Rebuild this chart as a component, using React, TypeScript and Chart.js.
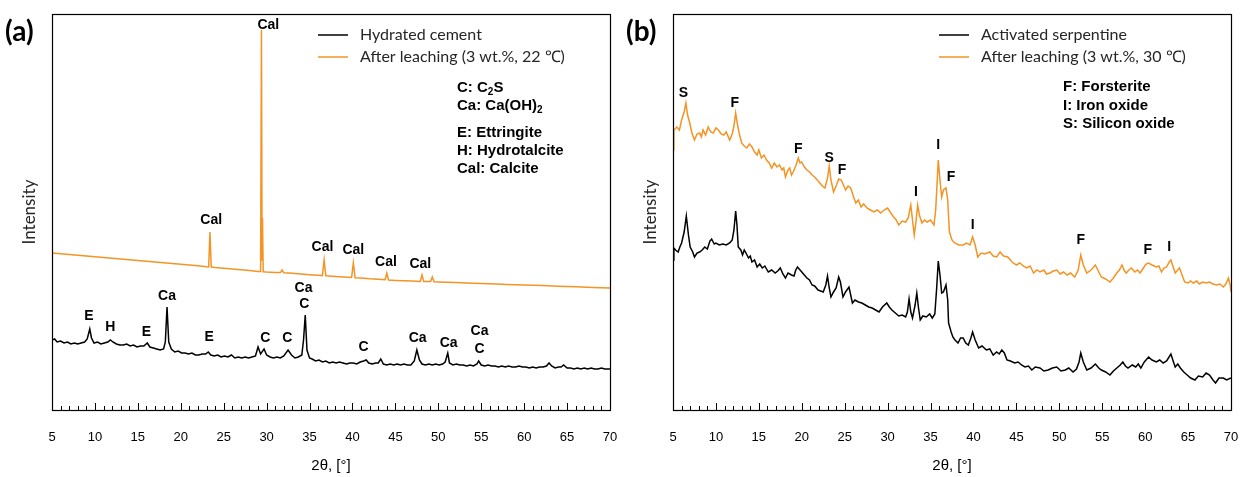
import React, { useEffect, useRef } from "react";
import { Chart, registerables } from "chart.js";
Chart.register(...registerables);

type Pt = [number, number];

const X_MIN = 5;
const X_MAX = 70;
const Y_MAX = 396;
const X_STEP = 5;

// Panel (a): hydrated cement (black)
const hydratedCement: Pt[] = [
  [5.0,70],[5.3,71],[5.6,68],[6.0,69],[6.4,67],[6.8,68],[7.2,66],[7.6,67],[8.0,66],[8.4,67],[8.8,68],[9.1,71],[9.4,81],[9.6,72],[9.9,67],
  [10.3,68],[10.7,66],[11.1,67],[11.5,68],[11.8,70],[12.1,68],[12.5,66],[12.9,65],[13.3,65],[13.7,66],[14.1,64],[14.5,65],[14.9,63],[15.3,64],
  [15.7,64],[16.1,67],[16.4,63],[16.8,62],[17.2,61],[17.6,60],[18.0,61],[18.2,68],[18.4,103],[18.6,68],[18.9,61],[19.3,58],[19.7,59],[20.1,57],
  [20.5,57],[20.9,56],[21.3,57],[21.7,55],[22.1,55],[22.5,56],[22.9,56],[23.2,58],[23.5,55],[23.9,54],[24.3,55],[24.7,53],[25.1,54],[25.5,53],
  [25.9,55],[26.3,52],[26.7,53],[27.1,52],[27.5,53],[27.9,52],[28.3,53],[28.7,54],[29.0,63],[29.3,56],[29.7,61],[30.0,55],[30.4,53],[30.8,52],
  [31.2,53],[31.6,52],[32.0,54],[32.5,60],[32.9,55],[33.3,52],[33.7,53],[34.1,55],[34.3,70],[34.5,95],[34.7,60],[35.0,52],[35.3,51],[35.7,49],
  [36.1,50],[36.5,48],[36.9,49],[37.3,47],[37.7,48],[38.1,47],[38.5,48],[38.9,47],[39.3,46],[39.7,47],[40.1,47],[40.5,46],[40.9,48],[41.3,49],
  [41.6,50],[41.9,47],[42.3,46],[42.7,47],[43.0,47],[43.3,51],[43.6,46],[44.0,45],[44.4,46],[44.8,45],[45.2,46],[45.6,45],[46.0,46],[46.4,45],
  [46.8,45],[47.2,49],[47.5,60],[47.8,50],[48.1,46],[48.5,45],[48.9,46],[49.3,45],[49.7,46],[50.1,45],[50.5,46],[50.8,48],[51.1,57],[51.3,47],
  [51.7,45],[52.1,46],[52.5,45],[52.9,45],[53.3,44],[53.7,45],[54.1,44],[54.5,46],[54.7,49],[55.0,45],[55.4,44],[55.8,45],[56.2,44],[56.6,44],
  [57.0,43],[57.4,44],[57.8,43],[58.2,44],[58.6,43],[59.0,43],[59.4,44],[59.8,43],[60.2,43],[60.6,42],[61.0,43],[61.4,42],[61.8,43],[62.2,43],
  [62.6,44],[62.9,47],[63.2,44],[63.6,42],[64.0,43],[64.3,43],[64.6,45],[65.0,42],[65.4,42],[65.8,41],[66.2,42],[66.6,41],[67.0,42],[67.4,41],
  [67.8,42],[68.2,41],[68.6,41],[69.0,42],[69.4,41],[69.8,41],[70.0,41],
];

// Panel (a): after leaching (orange)
const leachedCement: Pt[] = [
  [5,157],[6,156.3],[7,155.5],[8,154.8],[9,154],[10,153.3],[11,152.5],[12,151.8],[13,151],[14,150.3],[15,149.5],[16,148.8],[17,148],
  [18,147.3],[19,146.5],[20,145.8],[21,145],[22,144.3],[23,143.2],[23.25,143],[23.4,178],[23.55,143],[24,142.5],[25,141.8],[26,141],
  [27,140.2],[28,139.4],[29,138.6],[29.3,138.5],[29.4,380],[29.47,150],[29.52,192],[29.6,138.3],[30,138],[31,137.6],[31.6,137.4],[31.8,140],
  [32.0,137.2],[33,136.7],[34,136],[35,135.3],[36,134.7],[36.5,134.4],[36.7,150],[36.9,134.2],[38,133.5],[39,133],[39.9,132.5],[40.1,147],
  [40.3,132.3],[41,132],[42,131.3],[43,130.8],[43.8,130.3],[44.0,137],[44.2,130],[45,129.6],[46,129.2],[47,128.9],[47.9,128.6],[48.1,135],
  [48.3,128.6],[49.1,128.4],[49.3,133],[49.5,128.2],[50,128],[52,127.4],[54,126.8],[56,126.2],[58,125.6],[60,125],[62,124.4],[64,123.8],
  [66,123.2],[68,122.6],[70,122],
];

// Panel (b): activated serpentine (black)
const activatedSerpentine: Pt[] = [
  [5.0,150],[5.1,162],[5.3,160],[5.6,158],[5.8,163],[6.0,167],[6.3,178],[6.55,194],[6.8,175],[7.0,163],[7.3,158],[7.5,153],[7.8,157],[8.1,158],
  [8.4,160],[8.7,163],[9.0,161],[9.3,169],[9.5,171],[9.8,166],[10.0,167],[10.4,165],[10.8,166],[11.2,165],[11.6,167],[11.9,170],[12.1,180],
  [12.3,199],[12.45,185],[12.6,163],[12.9,160],[13.1,155],[13.3,160],[13.5,157],[13.8,152],[14.0,154],[14.2,148],[14.5,150],[14.8,143],[15.1,146],
  [15.4,142],[15.7,144],[16.1,138],[16.5,140],[16.9,137],[17.2,139],[17.5,142],[17.8,136],[18.1,132],[18.4,137],[18.8,135],[19.1,134],[19.3,140],
  [19.5,143],[19.8,140],[20.0,138],[20.3,135],[20.6,132],[20.9,130],[21.2,125],[21.5,124],[21.9,120],[22.2,119],[22.5,118],[22.8,125],[23.0,134],
  [23.2,122],[23.4,113],[23.7,118],[24.0,122],[24.3,133],[24.5,128],[24.8,113],[25.1,118],[25.5,123],[25.9,107],[26.2,110],[26.6,108],[27.0,107],
  [27.4,105],[27.8,103],[28.2,102],[28.6,100],[29.0,98],[29.4,103],[29.9,107],[30.2,103],[30.5,100],[30.9,97],[31.3,94],[31.7,95],[32.1,93],
  [32.3,98],[32.5,111],[32.7,98],[32.9,92],[33.2,105],[33.4,117],[33.6,102],[33.8,90],[34.1,94],[34.5,93],[34.9,96],[35.2,92],[35.5,96],
  [35.7,120],[35.9,149],[36.1,135],[36.3,117],[36.5,118],[36.8,125],[37.0,110],[37.1,87],[37.4,78],[37.6,73],[37.85,70],[38.2,67],[38.5,72],
  [38.8,72],[39.1,67],[39.4,65],[39.7,72],[39.9,78],[40.2,70],[40.6,62],[41.0,64],[41.5,60],[41.9,61],[42.3,55],[42.7,58],[43.0,56],[43.3,60],
  [43.6,57],[43.9,50],[44.3,49],[44.8,47],[45.2,48],[45.6,45],[46.0,43],[46.4,44],[46.8,40],[47.2,43],[47.75,42],[48.2,39],[48.7,40],[49.2,42],
  [49.7,43],[50.2,39],[50.7,40],[51.1,42],[51.6,38],[52.0,41],[52.3,48],[52.5,57],[52.8,48],[53.2,40],[53.7,42],[54.2,46],[54.6,42],[54.9,40],
  [55.4,38],[55.9,35],[56.3,39],[56.7,42],[57.1,45],[57.4,48],[57.7,44],[58.0,42],[58.5,45],[58.9,43],[59.2,46],[59.5,42],[59.9,48],[60.4,53],
  [60.8,50],[61.3,48],[61.7,50],[62.1,47],[62.5,49],[63.0,56],[63.3,48],[63.5,43],[63.8,46],[64.1,42],[64.5,38],[64.9,35],[65.3,32],[65.8,30],
  [66.2,34],[66.7,33],[67.1,37],[67.5,35],[67.9,30],[68.2,27],[68.6,32],[69.1,32],[69.5,30],[70.0,32],
];

// Panel (b): after leaching (orange)
const leachedSerpentine: Pt[] = [
  [5.0,260],[5.1,280],[5.45,283],[5.75,280],[6.0,290],[6.3,298],[6.5,307],[6.7,295],[6.95,287],[7.2,277],[7.5,270],[7.8,276],[8.1,277],[8.3,273],
  [8.5,280],[8.8,275],[9.1,283],[9.4,278],[9.7,277],[10.0,282],[10.3,280],[10.6,276],[10.9,275],[11.2,278],[11.6,270],[11.9,276],[12.1,284],
  [12.3,297],[12.5,286],[12.7,277],[13.0,267],[13.3,264],[13.6,262],[13.9,266],[14.2,263],[14.5,258],[14.8,255],[15.0,260],[15.3,252],[15.6,255],
  [15.9,250],[16.2,247],[16.5,242],[16.8,247],[17.1,243],[17.4,245],[17.7,240],[17.9,242],[18.1,233],[18.4,240],[18.6,242],[18.8,235],[19.0,238],
  [19.3,244],[19.6,252],[19.8,247],[20.0,248],[20.3,243],[20.6,240],[20.9,238],[21.2,235],[21.5,233],[21.8,230],[22.1,227],[22.4,224],[22.7,222],
  [23.0,232],[23.2,244],[23.4,230],[23.7,218],[24.0,224],[24.3,231],[24.6,230],[24.9,224],[25.1,220],[25.4,224],[25.7,222],[26.0,214],[26.3,207],
  [26.6,210],[26.9,203],[27.2,206],[27.6,202],[28.0,200],[28.4,198],[28.8,200],[29.2,197],[29.6,200],[30.0,202],[30.3,198],[30.7,193],[31.0,190],
  [31.3,185],[31.7,189],[32.1,188],[32.4,192],[32.7,205],[32.9,190],[33.1,175],[33.3,188],[33.5,205],[33.7,195],[34.0,187],[34.3,190],[34.6,188],
  [35.0,190],[35.4,185],[35.6,200],[35.9,250],[36.1,230],[36.3,213],[36.5,220],[36.8,222],[37.0,210],[37.2,178],[37.5,170],[37.8,167],[38.3,165],
  [38.8,165],[39.2,167],[39.6,165],[39.9,173],[40.2,165],[40.5,153],[40.9,157],[41.3,156],[41.9,158],[42.3,154],[42.7,153],[43.1,158],[43.5,154],
  [44.0,153],[44.5,148],[45.0,145],[45.4,147],[45.8,144],[46.2,142],[46.6,144],[47.0,137],[47.4,140],[47.75,138],[48.2,140],[48.5,136],[48.9,137],
  [49.3,139],[49.7,140],[50.1,136],[50.5,138],[50.9,135],[51.3,137],[51.8,133],[52.2,140],[52.5,155],[52.8,145],[53.2,137],[53.7,140],[54.2,145],
  [54.6,138],[54.9,133],[55.4,131],[55.9,128],[56.3,132],[56.7,137],[57.0,140],[57.3,145],[57.6,139],[57.8,137],[58.1,140],[58.4,142],[58.8,138],
  [59.1,140],[59.4,137],[59.8,142],[60.1,146],[60.4,147],[60.8,145],[61.3,143],[61.6,144],[61.9,138],[62.2,142],[62.5,143],[62.8,148],[63.0,150],
  [63.3,142],[63.5,137],[63.8,140],[64.0,142],[64.3,135],[64.6,128],[65.0,127],[65.3,129],[65.6,127],[66.0,129],[66.3,126],[66.7,128],[67.1,127],
  [67.5,128],[67.9,126],[68.3,125],[68.7,126],[69.1,123],[69.4,126],[69.7,132],[69.9,125],[70.0,118],
];

type Label = { t: string; x: number; y: number };

const cementPeakLabels: Label[] = [
  { t: "Cal", x: 30.2, y: 385 }, { t: "Cal", x: 23.55, y: 190 }, { t: "Cal", x: 36.5, y: 163 }, { t: "Cal", x: 40.1, y: 160 },
  { t: "Cal", x: 43.9, y: 148 }, { t: "Cal", x: 47.9, y: 146 }, { t: "E", x: 9.3, y: 94 }, { t: "H", x: 11.8, y: 83 },
  { t: "E", x: 16.0, y: 78 }, { t: "Ca", x: 18.4, y: 114 }, { t: "E", x: 23.3, y: 73 }, { t: "C", x: 29.85, y: 72 },
  { t: "C", x: 32.4, y: 72 }, { t: "Ca", x: 34.3, y: 122 }, { t: "C", x: 34.4, y: 106 }, { t: "C", x: 41.3, y: 63 },
  { t: "Ca", x: 47.6, y: 72 }, { t: "Ca", x: 51.2, y: 67 }, { t: "Ca", x: 54.8, y: 79 }, { t: "C", x: 54.8, y: 61 },
];

const serpPeakLabels: Label[] = [
  { t: "S", x: 6.2, y: 317 }, { t: "F", x: 12.2, y: 307 }, { t: "F", x: 19.6, y: 261 }, { t: "S", x: 23.2, y: 252 },
  { t: "F", x: 24.7, y: 240 }, { t: "I", x: 33.3, y: 218 }, { t: "I", x: 35.9, y: 265 }, { t: "F", x: 37.4, y: 233 },
  { t: "I", x: 39.9, y: 185 }, { t: "F", x: 52.5, y: 170 }, { t: "F", x: 60.3, y: 160 }, { t: "I", x: 62.8, y: 163 },
];

const cementLegend = ["Hydrated cement", "After leaching (3 wt.%, 22 \u2103)"];
const serpLegend = ["Activated serpentine", "After leaching (3 wt.%, 30 \u2103)"];
const cementPhases = ["C: C_2S", "Ca: Ca(OH)_2", "E: Ettringite", "H: Hydrotalcite", "Cal: Calcite"];
const cementPhaseRows = [74, 92, 119, 137, 155];
const serpPhases = ["F: Forsterite", "I: Iron oxide", "S: Silicon oxide"];
const serpPhaseRows = [73, 92, 110];

const BLACK = "#000000";
const ORANGE = "#F39424";

type PanelCfg = {
  tag: string;
  series: { data: Pt[]; color: string }[];
  peaks: Label[];
  legend: string[];
  phases: string[];
  phaseRows: number[];
  phaseX: number;
};

function drawSubText(ctx: CanvasRenderingContext2D, text: string, x: number, y: number, size: number) {
  const parts = text.split(/(_\d)/);
  let cx = x;
  for (const p of parts) {
    if (!p) continue;
    if (p.startsWith("_")) {
      ctx.font = `bold ${Math.round(size * 0.68)}px "Liberation Sans", Arial, sans-serif`;
      ctx.fillText(p.slice(1), cx, y + size * 0.3);
      cx += ctx.measureText(p.slice(1)).width;
    } else {
      ctx.font = `bold ${size}px "Liberation Sans", Arial, sans-serif`;
      ctx.fillText(p, cx, y);
      cx += ctx.measureText(p).width;
    }
  }
}

function makeDecor(cfg: PanelCfg) {
  return {
    id: "xrdDecor",
    afterDraw(chart: any) {
      const { ctx, chartArea: ca, scales } = chart;
      const xs = scales.x;
      const ys = scales.y;
      ctx.save();
      // frame
      ctx.strokeStyle = "#000";
      ctx.lineWidth = 1.2;
      ctx.strokeRect(Math.round(ca.left) + 0.5, Math.round(ca.top) + 0.5, Math.round(ca.width), Math.round(ca.height));
      // inward minor/major ticks
      ctx.lineWidth = 1;
      for (let v = X_MIN; v <= X_MAX; v += 1) {
        const px = Math.round(xs.getPixelForValue(v)) + 0.5;
        const len = v % X_STEP === 0 ? 7 : 4;
        ctx.beginPath();
        ctx.moveTo(px, ca.bottom);
        ctx.lineTo(px, ca.bottom - len);
        ctx.stroke();
      }
      // peak labels
      ctx.fillStyle = "#000";
      ctx.textAlign = "center";
      ctx.textBaseline = "middle";
      ctx.font = 'bold 14px "Liberation Sans", Arial, sans-serif';
      for (const l of cfg.peaks) {
        ctx.fillText(l.t, xs.getPixelForValue(l.x), ys.getPixelForValue(l.y));
      }
      // legend
      const lx = ca.left + 266;
      ctx.textAlign = "left";
      ctx.font = '16px Lato, "Open Sans", sans-serif';
      cfg.legend.forEach((t, i) => {
        const yy = ca.top + 21 + i * 22;
        ctx.strokeStyle = cfg.series[i].color;
        ctx.lineWidth = 1.5;
        ctx.beginPath();
        ctx.moveTo(lx, yy);
        ctx.lineTo(lx + 30, yy);
        ctx.stroke();
        ctx.fillStyle = "#262626";
        ctx.fillText(t, lx + 42, yy);
      });
      // phase key
      ctx.fillStyle = "#000";
      cfg.phases.forEach((t, i) => {
        drawSubText(ctx, t, ca.left + cfg.phaseX, ca.top + cfg.phaseRows[i], 15);
      });
      // panel tag
      ctx.font = 'bold 28px Lato, "Open Sans", sans-serif';
      ctx.textAlign = "left";
      ctx.fillStyle = "#000";
      ctx.fillText(cfg.tag, 5, 32);
      // y title
      ctx.save();
      ctx.translate(30, (ca.top + ca.bottom) / 2);
      ctx.rotate(-Math.PI / 2);
      ctx.textAlign = "center";
      ctx.font = '17px Lato, "Open Sans", sans-serif';
      ctx.fillStyle = "#262626";
      ctx.fillText("Intensity", 0, 0);
      ctx.restore();
      // x title
      ctx.textAlign = "center";
      ctx.font = '15px "Liberation Sans", Arial, sans-serif';
      ctx.fillStyle = "#000";
      const cx = (ca.left + ca.right) / 2;
      ctx.fillText("2\u03B8, [\u00B0]", cx, ca.bottom + 56);
      ctx.restore();
    },
  };
}

function Panel({ cfg }: { cfg: PanelCfg }) {
  const ref = useRef<HTMLCanvasElement | null>(null);
  useEffect(() => {
    if (!ref.current) return;
    const chart = new Chart(ref.current, {
      type: "line",
      data: {
        datasets: cfg.series.map((s) => ({
          data: s.data.map(([x, y]) => ({ x, y })),
          borderColor: s.color,
          borderWidth: 1.5,
          pointRadius: 0,
          tension: 0,
          fill: false,
        })),
      },
      options: {
        responsive: false,
        animation: false,
        devicePixelRatio: 1,
        layout: { padding: { left: 52, right: 11, top: 14, bottom: 0 } },
        plugins: { legend: { display: false }, tooltip: { enabled: false } },
        scales: {
          x: {
            type: "linear",
            min: X_MIN,
            max: X_MAX,
            grid: { display: false, drawTicks: false },
            border: { display: false },
            ticks: {
              stepSize: X_STEP,
              padding: 20,
              color: "#000",
              font: { family: '"Liberation Sans", Arial, sans-serif', size: 13 },
              maxRotation: 0,
            },
            afterFit: (s: any) => {
              s.height = 67;
              s.paddingLeft = 0;
              s.paddingRight = 0;
            },
          },
          y: { display: false, min: 0, max: Y_MAX },
        },
      },
      plugins: [makeDecor(cfg)],
    } as any);
    return () => chart.destroy();
  }, [cfg]);
  return <canvas ref={ref} width={621} height={477} style={{ display: "block", width: 621, height: 477 }} />;
}

const panelA: PanelCfg = {
  tag: "(a)",
  series: [
    { data: hydratedCement, color: BLACK },
    { data: leachedCement, color: ORANGE },
  ],
  peaks: cementPeakLabels,
  legend: cementLegend,
  phases: cementPhases,
  phaseRows: cementPhaseRows,
  phaseX: 405,
};

const panelB: PanelCfg = {
  tag: "(b)",
  series: [
    { data: activatedSerpentine, color: BLACK },
    { data: leachedSerpentine, color: ORANGE },
  ],
  peaks: serpPeakLabels,
  legend: serpLegend,
  phases: serpPhases,
  phaseRows: serpPhaseRows,
  phaseX: 390,
};

export default function App() {
  return (
    <div style={{ position: "absolute", left: 0, top: 0, width: 1242, height: 477, display: "flex", background: "#fff" }}>
      <Panel cfg={panelA} />
      <Panel cfg={panelB} />
    </div>
  );
}
